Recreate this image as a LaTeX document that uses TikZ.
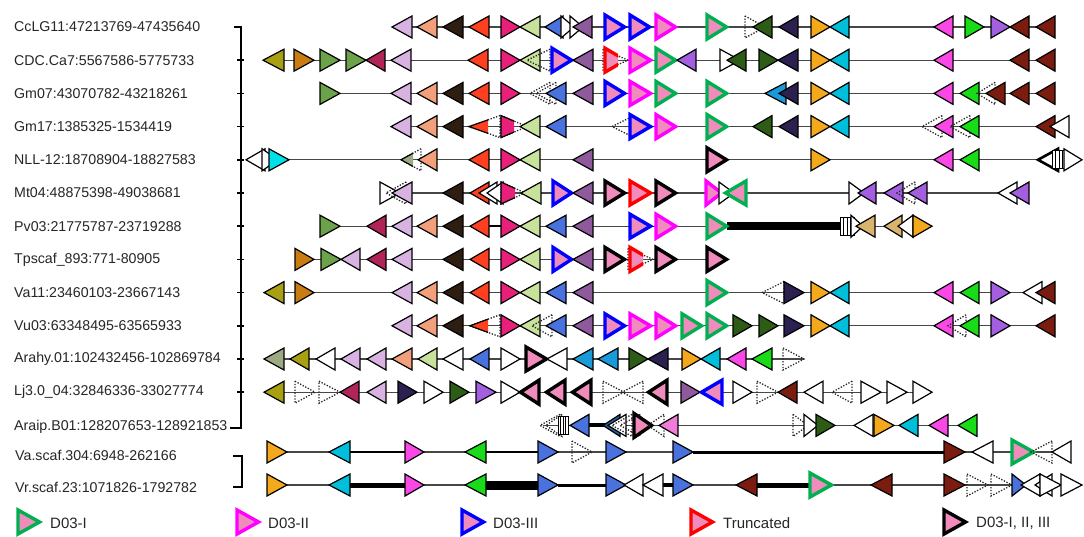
\documentclass[tikz,border=0pt]{standalone}
\usepackage{fontspec}
\setmainfont{Liberation Sans}
\definecolor{lav}{HTML}{D8B2E0}
\definecolor{salmon}{HTML}{F2A07C}
\definecolor{dbrown}{HTML}{2E1E12}
\definecolor{redor}{HTML}{FF4020}
\definecolor{rose}{HTML}{E8207A}
\definecolor{lgreen}{HTML}{C8E29C}
\definecolor{rblue}{HTML}{4A72DE}
\definecolor{mpurple}{HTML}{8E5A9C}
\definecolor{dgreen}{HTML}{2C5C16}
\definecolor{navy}{HTML}{2C2050}
\definecolor{orange}{HTML}{F4A81C}
\definecolor{cyan}{HTML}{00BFDA}
\definecolor{magenta}{HTML}{FA48E6}
\definecolor{bgreen}{HTML}{18DC18}
\definecolor{violet}{HTML}{A45EE0}
\definecolor{dred}{HTML}{7A1C10}
\definecolor{olive}{HTML}{A8A012}
\definecolor{bronze}{HTML}{C87C12}
\definecolor{mgreen}{HTML}{6CA24A}
\definecolor{crimson}{HTML}{B02458}
\definecolor{sage}{HTML}{9CAA84}
\definecolor{tan}{HTML}{D8B46C}
\definecolor{sky}{HTML}{1A9AD8}
\definecolor{bcyan}{HTML}{00E0E8}
\definecolor{steel}{HTML}{2A5E9C}
\definecolor{lpink}{HTML}{F27AD8}
\definecolor{dpink}{HTML}{F08CBC}
\definecolor{dI}{HTML}{00B050}
\definecolor{dII}{HTML}{FF00FF}
\definecolor{dIII}{HTML}{0000FF}
\definecolor{dT}{HTML}{FF0000}
\tikzset{
 gene/.style={draw=black, line width=1.2pt, line join=miter, miter limit=4},
 dgene/.style={draw=black!85, line width=1.3pt, dash pattern=on 1.3pt off 1.6pt},
 dbox/.style={line width=3.4pt, fill=dpink, line join=miter, miter limit=6},
 bb/.style={draw=black!72, line width=1.1pt},
 thk/.style={draw=black},
 brk/.style={draw=black, line width=1.8pt},
 lbl/.style={anchor=west, font=\fontsize{14.2}{16}\selectfont, text=black!85, inner sep=0pt},
 leg/.style={anchor=west, font=\fontsize{15}{17}\selectfont, text=black!85, inner sep=0pt},
}
\newcommand\gnR[3]{\filldraw[gene,fill=#3] (#1,\ry-11) -- (#2,\ry) -- (#1,\ry+11) -- cycle;}
\newcommand\gnL[3]{\filldraw[gene,fill=#3] (#2,\ry-11) -- (#1,\ry) -- (#2,\ry+11) -- cycle;}
\newcommand\dtR[2]{\draw[dgene] (#1,\ry-11) -- (#2,\ry) -- (#1,\ry+11) -- cycle;}
\newcommand\dtL[2]{\draw[dgene] (#2,\ry-11) -- (#1,\ry) -- (#2,\ry+11) -- cycle;}
\newcommand\bdR[3]{\filldraw[dbox,draw=#3] (#1+2,\ry-12) -- (#2-2.5,\ry) -- (#1+2,\ry+12) -- cycle;}
\newcommand\bdL[3]{\filldraw[dbox,draw=#3] (#2-2,\ry-12) -- (#1+2.5,\ry) -- (#2-2,\ry+12) -- cycle;}
\newcommand\trR[4]{\dtR{#1}{#2}\begin{scope}\clip (#1-4,\ry-16) rectangle (#3,\ry+16);\gnR{#1}{#2}{#4}\end{scope}}
\newcommand\trL[4]{\dtL{#1}{#2}\begin{scope}\clip (#1-4,\ry-16) rectangle (#3,\ry+16);\gnL{#1}{#2}{#4}\end{scope}}
\newcommand\trB[4]{\dtR{#1}{#2}\begin{scope}\clip (#1-4,\ry-18) rectangle (#3,\ry+18);\bdR{#1}{#2}{#4}\end{scope}}
\newcommand\strp[2]{\filldraw[gene,fill=white,line width=0.9pt] (#1,\ry-9) rectangle (#2,\ry+9);
 \foreach \q in {1,2,3}{\draw[line width=0.6pt] ({#1+(#2-#1)*\q/4},\ry-9) -- ({#1+(#2-#1)*\q/4},\ry+9);}}
\newcommand\bbone[3][1.1pt]{\draw[bb,line width=#1] (#2,\ry) -- (#3,\ry);}
\newcommand\thline[3]{\draw[thk,line width=#1] (#2,\ry) -- (#3,\ry);}
\begin{document}
\begin{tikzpicture}[x=1pt,y=-1pt]
\useasboundingbox[fill=white] (0,0) rectangle (1084,537);
% labels
\node[lbl] (n1) at (14,27) {CcLG11:47213769-47435640};
\node[lbl] (n2) at (14,60.2) {CDC.Ca7:5567586-5775733};
\node[lbl] (n3) at (14,93.4) {Gm07:43070782-43218261};
\node[lbl] (n4) at (14,126.6) {Gm17:1385325-1534419};
\node[lbl] (n5) at (14,159.8) {NLL-12:18708904-18827583};
\node[lbl] (n6) at (14,193) {Mt04:48875398-49038681};
\node[lbl] (n7) at (14,226.2) {Pv03:21775787-23719288};
\node[lbl] (n8) at (14,259.4) {Tpscaf\_893:771-80905};
\node[lbl] (n9) at (14,292.6) {Va11:23460103-23667143};
\node[lbl] (n10) at (14,325.8) {Vu03:63348495-63565933};
\node[lbl] (n11) at (14,359) {Arahy.01:102432456-102869784};
\node[lbl] (n12) at (14,392.2) {Lj3.0\_04:32846336-33027774};
\node[lbl] (n13) at (14,427) {Araip.B01:128207653-128921853};
\node[lbl] (n14) at (15,455) {Va.scaf.304:6948-262166};
\node[lbl] (n15) at (15,487) {Vr.scaf.23:1071826-1792782};
% brackets
\draw[brk] (234,27) -- (241,27) -- (241,428) -- (230,428);
\foreach \yy in {60.2,93.4,126.6,159.8,193,226.2,259.4,292.6,325.8,359,392.2}{\draw[line width=1.5pt] (237,\yy) -- (244,\yy);}
\draw[brk] (233,456) -- (242,456) -- (242,487) -- (233,487);
% row 1
\def\ry{27}
\bbone{392}{1055}
\gnL{392}{412}{lav}\gnL{417}{437}{salmon}\gnL{443}{463}{dbrown}\gnL{469}{489}{redor}
\gnR{501}{520}{rose}\gnL{520}{540}{lgreen}\gnL{545}{563}{rblue}\gnR{561}{574}{white}\gnR{570}{583}{white}
\gnL{573}{592}{mpurple}\bdR{603}{627}{dIII}\bdR{628}{652}{dIII}\bdR{654}{678}{dII}\bdR{705}{729}{dI}
\dtR{745}{765}\gnL{753}{772}{dgreen}\gnL{779}{798}{navy}\gnR{811}{830}{orange}\gnL{830}{849}{cyan}
\gnL{934}{953}{magenta}\gnR{965}{984}{bgreen}\gnR{991}{1010}{violet}\gnL{1010}{1029}{dred}\gnL{1036}{1055}{dred}
% row 2
\def\ry{60.2}
\bbone{263}{1055}
\gnL{263}{284}{olive}\gnR{294}{314}{bronze}\gnR{320}{340}{mgreen}\gnR{346}{366}{mgreen}\gnL{366}{385}{crimson}
\gnL{391}{411}{lav}\gnL{468}{488}{redor}\gnR{501}{520}{rose}\gnL{520}{540}{lgreen}\dtL{527}{550}
\bdR{550}{574}{dIII}\gnL{573}{593}{mpurple}\trB{603}{628}{618}{dT}\bdR{628}{653}{dII}\bdR{654}{678}{dI}
\gnL{677}{696}{violet}\gnR{720}{740}{white}\gnL{727}{746}{dgreen}\gnR{759}{778}{dgreen}\gnL{778}{798}{navy}
\gnR{811}{830}{orange}\gnL{830}{849}{cyan}\gnL{934}{953}{magenta}\gnL{1010}{1029}{dred}\gnL{1036}{1055}{dred}
% row 3
\def\ry{93.4}
\bbone{320}{1055}
\gnR{320}{340}{mgreen}\gnL{391}{411}{lav}\gnL{417}{437}{salmon}\gnL{443}{463}{dbrown}\gnL{469}{489}{redor}
\gnR{501}{520}{rose}\dtL{530}{550}\dtL{536}{556}\gnL{546}{566}{rblue}\gnL{573}{593}{mpurple}
\bdR{603}{627}{dIII}\bdR{628}{653}{dII}\bdR{654}{678}{dI}\bdR{705}{729}{dI}
\gnL{765}{786}{sky}\gnL{779}{798}{navy}\gnR{811}{830}{orange}\gnL{830}{849}{cyan}
\gnL{934}{953}{magenta}\gnL{960}{979}{bgreen}\dtL{977}{995}\gnL{986}{1005}{dred}\gnL{1010}{1029}{dred}\gnL{1036}{1055}{dred}
% row 4
\def\ry{126.6}
\bbone{391}{1069}
\gnL{391}{411}{lav}\gnL{417}{437}{salmon}\gnL{443}{463}{dbrown}\trL{469}{500}{488}{redor}
\trR{501}{527}{514}{rose}\gnL{520}{540}{lgreen}\gnL{546}{566}{rblue}\dtL{612}{634}
\bdR{628}{653}{dIII}\bdR{654}{678}{dII}\bdR{705}{729}{dI}
\gnL{753}{772}{dgreen}\gnL{779}{798}{navy}\gnR{811}{830}{orange}\gnL{830}{849}{cyan}
\dtL{922}{942}\gnL{934}{953}{magenta}\dtL{950}{970}\gnL{960}{979}{bgreen}\gnL{1036}{1055}{dred}\gnL{1050}{1069}{white}
% row 5
\def\ry{159.8}
\bbone{246}{1082}
\gnL{246}{265}{white}\gnR{262}{278}{white}\gnR{269}{289}{bcyan}
\trL{401}{421}{413}{sage}\gnL{418}{437}{salmon}\gnL{469}{489}{redor}\gnR{501}{520}{rose}\gnL{520}{540}{lgreen}
\gnL{573}{593}{mpurple}\bdR{705}{729}{black}\gnR{811}{830}{orange}\gnL{934}{953}{magenta}\gnL{960}{979}{bgreen}
\filldraw[gene,line width=2.6pt,fill=white] (1058,\ry-11) -- (1038,\ry) -- (1058,\ry+11) -- cycle;
\strp{1052}{1066}\gnR{1064}{1082}{white}
% row 6
\def\ry{193}
\bbone{381}{1029}
\gnR{380}{400}{white}\dtL{386}{406}\gnL{392}{412}{lav}\gnL{443}{463}{dbrown}
\gnL{470}{489}{redor}\gnL{479}{497}{white}\gnL{487}{503}{white}\trR{501}{525}{515}{rose}\gnL{521}{541}{lgreen}
\bdR{551}{574}{dIII}\gnL{573}{593}{mpurple}\bdR{603}{627}{black}\bdR{628}{653}{dT}\bdR{654}{678}{black}
\bdR{704}{724}{dII}\gnR{719}{734}{white}\bdL{723}{748}{dI}
\gnR{849}{864}{white}\gnL{858}{876}{violet}\gnL{884}{903}{violet}\dtL{897}{915}\gnL{908}{927}{violet}
\gnL{998}{1017}{white}\gnL{1010}{1029}{violet}
% row 7
\def\ry{226.2}
\bbone{320}{932}\thline{2.6pt}{489}{501}
\gnR{320}{340}{mgreen}\gnL{367}{386}{crimson}\gnL{392}{412}{lav}\gnL{417}{437}{salmon}\gnL{443}{463}{dbrown}
\gnL{470}{489}{redor}\gnR{501}{520}{rose}\gnL{520}{540}{lgreen}\gnL{546}{566}{rblue}\gnL{573}{593}{mpurple}
\bdR{628}{653}{dIII}\bdR{654}{678}{dII}\thline{8pt}{727}{842}\bdR{705}{729}{dI}
\strp{840}{854}\gnR{851}{863}{white}\gnL{856}{875}{tan}\gnL{884}{902}{tan}\gnL{898}{913}{white}\gnR{913}{932}{orange}
% row 8
\def\ry{259.4}
\bbone{295}{728}
\gnR{295}{314}{bronze}\gnR{321}{341}{mgreen}\gnL{341}{360}{lav}\gnL{367}{386}{crimson}\gnL{392}{412}{lav}
\gnL{443}{463}{dbrown}\gnL{470}{489}{redor}\gnR{501}{520}{rose}\gnL{520}{540}{lgreen}
\bdR{551}{574}{dIII}\gnL{573}{593}{mpurple}\bdR{603}{627}{black}\trB{628}{653}{643}{dT}\bdR{654}{678}{black}\bdR{705}{729}{black}
% row 9
\def\ry{292.6}
\bbone{264}{1055}
\gnL{264}{284}{olive}\gnR{295}{314}{bronze}\gnL{392}{412}{lav}\gnL{417}{437}{salmon}\gnL{443}{463}{dbrown}
\gnL{470}{489}{redor}\gnR{501}{520}{rose}\gnL{520}{540}{lgreen}\gnL{546}{566}{rblue}\gnL{573}{593}{mpurple}
\bdR{705}{729}{dI}\dtL{762}{784}\gnR{784}{804}{navy}\gnR{811}{830}{orange}\gnL{830}{849}{cyan}
\gnL{934}{953}{magenta}\gnL{960}{979}{bgreen}\gnR{991}{1010}{violet}\gnL{1023}{1042}{white}\gnL{1036}{1055}{dred}
% row 10
\def\ry{325.8}
\bbone{392}{1055}
\gnL{392}{412}{lav}\gnL{417}{437}{salmon}\gnL{443}{463}{dbrown}\trL{470}{500}{488}{redor}
\gnR{501}{520}{rose}\gnL{520}{540}{lgreen}\dtL{532}{552}\gnL{546}{566}{rblue}\gnL{573}{593}{mpurple}
\bdR{603}{627}{dIII}\bdR{628}{653}{dII}\bdR{654}{678}{dII}\bdR{680}{704}{dI}\bdR{705}{729}{dI}
\gnR{733}{752}{dgreen}\gnR{759}{778}{dgreen}\gnR{784}{804}{navy}\gnR{811}{830}{orange}\gnL{830}{849}{cyan}
\gnL{934}{953}{magenta}\dtL{948}{966}\gnL{960}{979}{bgreen}\gnR{991}{1010}{violet}\gnL{1036}{1055}{dred}
% row 11
\def\ry{359}
\bbone{264}{804}
\gnL{264}{284}{sage}\gnL{290}{309}{olive}\gnL{316}{335}{white}\gnL{341}{360}{lav}\gnL{367}{386}{lav}
\gnL{392}{412}{salmon}\gnL{418}{437}{lgreen}\gnL{443}{463}{white}\gnL{470}{489}{rblue}\gnR{501}{520}{white}
\bdR{524}{549}{black}\gnL{547}{567}{white}\gnL{573}{593}{sky}\gnL{598}{618}{sky}\gnR{629}{648}{dgreen}\gnL{648}{668}{navy}
\gnR{682}{701}{orange}\gnL{701}{720}{cyan}\gnL{727}{746}{magenta}\gnL{752}{772}{bgreen}\dtR{783}{804}
% row 12
\def\ry{392.2}
\bbone{264}{932}
\gnL{264}{284}{olive}\dtR{295}{315}\dtR{319}{340}\gnL{340}{359}{crimson}\gnL{367}{386}{lav}
\gnR{398}{417}{navy}\gnR{424}{443}{white}\gnR{450}{469}{dgreen}\gnR{476}{496}{violet}\gnR{501}{520}{white}
\bdL{518}{541}{black}\bdL{544}{567}{black}\bdL{570}{593}{black}\dtR{603}{624}\dtL{622}{643}\bdL{646}{669}{black}
\gnR{681}{700}{mpurple}\bdL{699}{724}{dIII}\gnR{733}{752}{white}\dtR{757}{778}\gnL{778}{797}{dred}
\gnL{804}{823}{white}\dtL{832}{852}\gnR{861}{881}{white}\gnR{887}{907}{white}\gnR{913}{932}{white}
% row 13
\def\ry{425.4}
\bbone{543}{977}\thline{4pt}{589}{607}
\dtL{540}{560}\dtL{546}{562}\strp{558}{568}\gnL{570}{589}{rblue}\gnL{603}{620}{steel}
\gnL{608}{626}{white}\dtL{612}{632}\dtL{620}{640}\bdR{632}{654}{black}\dtL{648}{664}\gnL{659}{678}{lpink}
\dtR{793}{808}\gnR{804}{818}{white}\gnR{816}{835}{dgreen}\gnL{854}{873}{white}\gnR{874}{894}{orange}
\gnL{899}{918}{cyan}\gnL{929}{948}{magenta}\gnL{958}{977}{bgreen}
% row 14
\def\ry{452}
\bbone{267}{1071}\thline{2pt}{350}{405}\thline{2pt}{486}{538}\thline{3pt}{693}{944}
\gnR{267}{287}{orange}\gnL{329}{350}{cyan}\gnR{405}{424}{magenta}\gnL{465}{486}{bgreen}
\gnR{538}{558}{rblue}\dtR{572}{592}\gnR{606}{626}{rblue}\gnR{673}{693}{rblue}
\gnR{944}{965}{dred}\gnL{972}{993}{white}\bdR{1010}{1036}{dI}\dtL{1031}{1052}\gnL{1052}{1071}{white}
% row 15
\def\ry{485}
\bbone{267}{1082}\thline{5pt}{350}{405}\thline{9pt}{486}{538}\thline{3pt}{558}{606}\thline{4pt}{663}{673}\thline{5pt}{757}{809}
\gnR{267}{287}{orange}\gnL{329}{350}{cyan}\gnR{405}{424}{magenta}\gnL{465}{486}{bgreen}
\gnR{538}{558}{rblue}\gnR{606}{626}{rblue}\gnL{624}{643}{white}\gnL{643}{663}{white}\gnR{673}{693}{rblue}
\gnL{736}{757}{dred}\bdR{808}{834}{dI}\gnL{871}{892}{dred}\gnR{944}{965}{dred}\dtR{967}{988}\dtR{991}{1012}
\gnR{1012}{1026}{rblue}\gnL{1021}{1040}{white}\gnL{1035}{1052}{white}\gnR{1040}{1061}{white}\gnR{1061}{1082}{white}
% legend
\def\ry{522}
\bdR{16}{42}{dI}\node[leg] (k1) at (50,523) {D03-I};
\bdR{235}{261}{dII}\node[leg] (k2) at (268,523) {D03-II};
\bdR{460}{486}{dIII}\node[leg] (k3) at (493,523) {D03-III};
\bdR{689}{715}{dT}\node[leg] (k4) at (723,523) {Truncated};
\bdR{942}{968}{black}\node[leg] (k5) at (976,523) {D03-I, II, III};
\end{tikzpicture}
\end{document}
